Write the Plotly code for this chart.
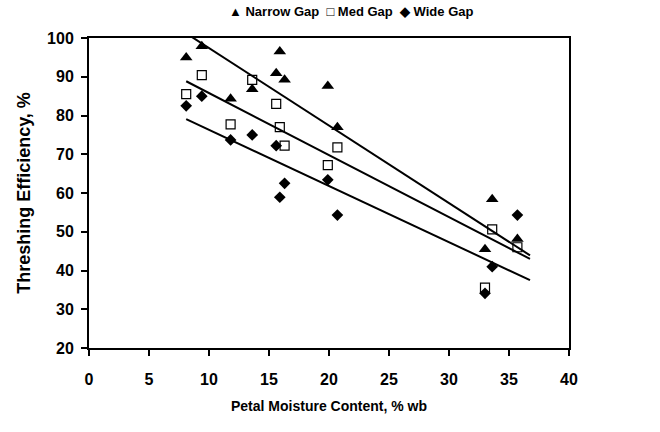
import numpy as np
import plotly.graph_objects as go

# Data
moisture = [8.1, 9.4, 11.8, 13.6, 15.6, 15.9, 16.3, 19.9, 20.7, 33.0, 33.6, 35.7]
narrow_gap = [95.0, 97.9, 84.3, 86.8, 90.9, 96.5, 89.2, 87.6, 77.0, 45.5, 58.4, 48.1]
med_gap = [85.5, 90.4, 77.7, 89.2, 83.0, 77.0, 72.2, 67.2, 71.8, 35.6, 50.6, 46.0]
wide_gap = [82.5, 85.0, 73.7, 75.0, 72.2, 58.9, 62.5, 63.4, 54.3, 34.1, 41.0, 54.3]
series_names = ["Narrow Gap", "Med Gap", "Wide Gap"]
legend_glyphs = ["\u25B2", "\u25A1", "\u25C6"]
# Linear trend lines as drawn in the reference (slope, intercept)
trend_slope = [-2.0, -1.6, -1.45]
trend_intercept = [117.4, 101.8, 90.8]
trend_end = 36.75
x_ticks = [0, 5, 10, 15, 20, 25, 30, 35, 40]
y_ticks = [20, 30, 40, 50, 60, 70, 80, 90, 100]

FONT = "Liberation Sans, Arial, sans-serif"

markers = [
    dict(symbol="triangle-up", size=11, color="black"),
    dict(symbol="square-open", size=9, color="black", line=dict(width=1.2, color="black")),
    dict(symbol="diamond", size=9, color="black"),
]
values = [narrow_gap, med_gap, wide_gap]

fig = go.Figure()
for name, vals, marker in zip(series_names, values, markers):
    fig.add_trace(go.Scatter(x=moisture, y=vals, mode="markers", name=name,
                             marker=marker, showlegend=False))
for name, m, b in zip(series_names, trend_slope, trend_intercept):
    xs = np.array([min(moisture), trend_end])
    fig.add_trace(go.Scatter(x=xs, y=m * xs + b, mode="lines", name=name + " trend",
                             line=dict(color="black", width=2), showlegend=False,
                             hoverinfo="skip"))

axis_common = dict(showline=True, linecolor="black", linewidth=2, mirror=True,
                   ticks="outside", ticklen=6, tickwidth=1.5, tickcolor="black",
                   showgrid=False, zeroline=False, automargin=False,
                   tickfont=dict(family=FONT, size=16, color="black", weight="bold"))

fig.update_xaxes(range=[0, 40], tickvals=x_ticks, ticklabelstandoff=10,
                 title=dict(text="Petal Moisture Content, % wb", standoff=14,
                            font=dict(family=FONT, size=14, color="black", weight="bold")),
                 **axis_common)
fig.update_yaxes(range=[20, 100], tickvals=y_ticks, ticklabelstandoff=4,
                 title=dict(text="Threshing Efficiency, %", standoff=12,
                            font=dict(family=FONT, size=18, color="black", weight="bold")),
                 **axis_common)

NB = "\u00a0"
legend_text = (NB * 2).join(g + NB + n for g, n in zip(legend_glyphs, series_names))
fig.add_annotation(text=legend_text, xref="paper", yref="paper",
                   x=0.546, y=1.0, xanchor="center", yanchor="bottom", yshift=17,
                   showarrow=False,
                   font=dict(family=FONT, size=13, color="black", weight="bold"))

fig.update_layout(
    width=660, height=432,
    margin=dict(l=89, r=91, t=38, b=84, autoexpand=False),
    paper_bgcolor="white", plot_bgcolor="white",
    font=dict(family=FONT, color="black"),
    showlegend=False,
)

fig.write_html("out.html", config={"displayModeBar": False},
               post_script="document.body.style.margin='0';")
